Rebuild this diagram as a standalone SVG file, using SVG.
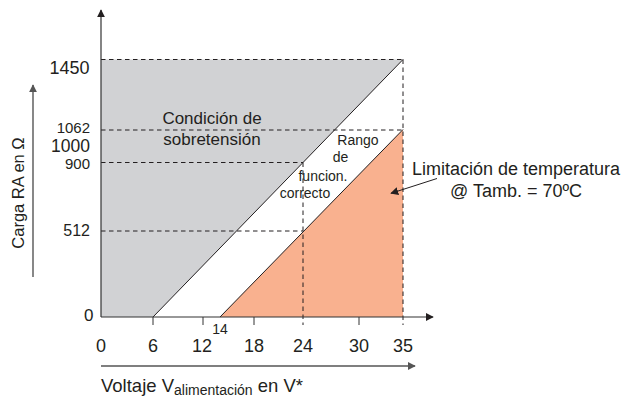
<svg xmlns="http://www.w3.org/2000/svg" width="625" height="399" viewBox="0 0 625 399">
<defs>
<marker id="ah" viewBox="0 0 10 10" refX="9" refY="5" markerWidth="8" markerHeight="8" markerUnits="userSpaceOnUse" orient="auto">
<path d="M0,0 L10,5 L0,10 Z" fill="#231f20"/>
</marker>
<marker id="ahg" viewBox="0 0 10 10" refX="9" refY="5" markerWidth="8" markerHeight="8" markerUnits="userSpaceOnUse" orient="auto">
<path d="M0,0 L10,5 L0,10 Z" fill="#555"/>
</marker>
</defs>
<style>
text{font-family:"Liberation Sans",Arial,sans-serif;fill:#231f20}
.dash{stroke:#231f20;stroke-width:1;stroke-dasharray:4.5 3.5;fill:none}
.axis{stroke:#333;stroke-width:1.2;fill:none}
.tick{stroke:#333;stroke-width:1}
.diag{stroke:#231f20;stroke-width:1;fill:none}
.ylab{font-size:16px;text-anchor:end}
.xlab{font-size:18px;text-anchor:middle}
</style>
<rect width="625" height="399" fill="#fff"/>
<g id="regions">
<polygon id="overvoltage" points="101,59.5 403,59.5 153,317 101,317" fill="#d1d2d4"/>
<polygon id="templimit" points="220,317 403,129.5 403,317" fill="#f9b18f"/>
</g>
<g id="gridlines">
<line class="dash" x1="101" y1="59.5" x2="403" y2="59.5"/>
<line class="dash" x1="101" y1="130" x2="403" y2="130"/>
<line class="dash" x1="101" y1="162.5" x2="303" y2="162.5"/>
<line class="dash" x1="101" y1="231" x2="303" y2="231"/>
<line class="dash" x1="303" y1="162.5" x2="303" y2="325"/>
<line class="dash" x1="403" y1="59.5" x2="403" y2="325"/>
</g>
<g id="connectors">
<line class="diag" x1="153" y1="317" x2="403" y2="59.5"/>
<line class="diag" x1="220" y1="317" x2="403" y2="129.5"/>
<line class="axis" x1="101" y1="317" x2="101" y2="10" marker-end="url(#ah)"/>
<line class="axis" x1="101" y1="317" x2="433" y2="317" marker-end="url(#ah)"/>
<line x1="437" y1="178.5" x2="391" y2="193.3" stroke="#231f20" stroke-width="1" marker-end="url(#ah)"/>
<line x1="33" y1="277" x2="33" y2="85" stroke="#555" stroke-width="1.4" marker-end="url(#ahg)"/>
<line x1="101" y1="366" x2="415" y2="366" stroke="#555" stroke-width="1.4" marker-end="url(#ahg)"/>
</g>
<g id="ticks">
<line class="tick" x1="153" y1="317" x2="153" y2="325"/>
<line class="tick" x1="203" y1="317" x2="203" y2="325"/>
<line class="tick" x1="254" y1="317" x2="254" y2="325"/>
<line class="tick" x1="359" y1="317" x2="359" y2="325"/>
</g>
<g id="y-labels">
<text class="ylab" x="89.5" y="74" style="font-size:18px">1450</text>
<text class="ylab" x="90" y="133" style="font-size:15px">1062</text>
<text class="ylab" x="90" y="151.5" style="font-size:17.5px">1000</text>
<text class="ylab" x="90" y="168.5" style="font-size:15px">900</text>
<text class="ylab" x="90" y="236">512</text>
<text class="ylab" x="93.5" y="321" style="font-size:17px">0</text>
</g>
<g id="x-labels">
<text class="xlab" x="101" y="352">0</text>
<text class="xlab" x="153" y="352">6</text>
<text class="xlab" x="202" y="352">12</text>
<text class="xlab" x="254" y="352">18</text>
<text class="xlab" x="303" y="352">24</text>
<text class="xlab" x="359" y="352">30</text>
<text class="xlab" x="403" y="352">35</text>
<text class="xlab" x="220" y="333.5" style="font-size:14px">14</text>
</g>
<g id="axis-titles">
<text x="101" y="392" style="font-size:18.5px">Voltaje V<tspan style="font-size:14px" dy="3">alimentación</tspan><tspan dy="-3"> en V*</tspan></text>
<text x="24" y="193" style="font-size:16.5px;text-anchor:middle" transform="rotate(-90 24 193)">Carga RA en Ω</text>
</g>
<g id="overvoltage-label">
<text x="212" y="124" style="font-size:17px;text-anchor:middle">Condición de</text>
<text x="212" y="144.5" style="font-size:17px;text-anchor:middle">sobretensión</text>
</g>
<g id="range-label">
<text x="358" y="144.5" style="font-size:14px;text-anchor:middle">Rango</text>
<text x="340.5" y="162" style="font-size:14px;text-anchor:middle">de</text>
<text x="323" y="181" style="font-size:14px;text-anchor:middle">funcion.</text>
<text x="305" y="197.5" style="font-size:14px;text-anchor:middle">correcto</text>
</g>
<g id="temp-label">
<text x="516" y="174.5" style="font-size:18px;text-anchor:middle">Limitación de temperatura</text>
<text x="516" y="197" style="font-size:18px;text-anchor:middle">@ Tamb. = 70ºC</text>
</g>
</svg>
